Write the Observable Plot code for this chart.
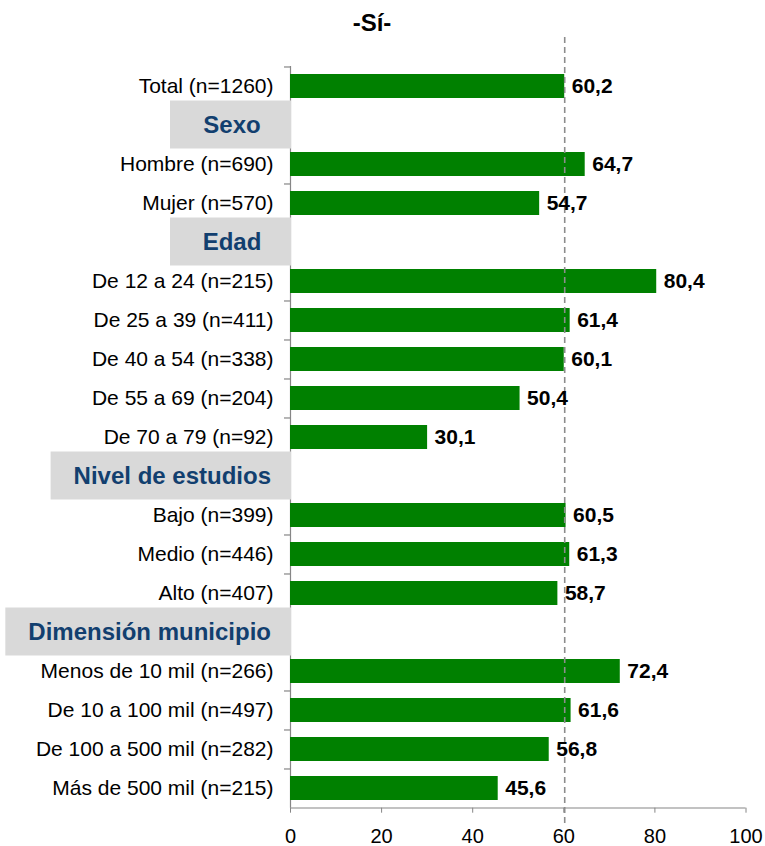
<!DOCTYPE html>
<html>
<head>
<meta charset="utf-8">
<script src="https://cdn.jsdelivr.net/npm/d3@7"></script>
<script src="https://cdn.jsdelivr.net/npm/@observablehq/plot@0.6"></script>
<style>
  html, body { margin: 0; padding: 0; background: #fff; }
  #wrap { position: relative; width: 765px; height: 846px; font-family: "Liberation Sans", Arial, sans-serif; }
  #title { position: absolute; left: 0; top: 11px; width: 744px; text-align: center; font-weight: bold; font-size: 24px; line-height: 24px; color: #000; }
  #chart { position: absolute; left: 0; top: 0; }
</style>
</head>
<body>
<div id="wrap">
  <div id="chart"></div>
  <div id="title">-Sí-</div>
</div>
<script>
const categories = [
  "Total (n=1260)", "Sexo", "Hombre (n=690)", "Mujer (n=570)", "Edad",
  "De 12 a 24 (n=215)", "De 25 a 39 (n=411)", "De 40 a 54 (n=338)", "De 55 a 69 (n=204)", "De 70 a 79 (n=92)",
  "Nivel de estudios", "Bajo (n=399)", "Medio (n=446)", "Alto (n=407)",
  "Dimensión municipio", "Menos de 10 mil (n=266)", "De 10 a 100 mil (n=497)", "De 100 a 500 mil (n=282)", "Más de 500 mil (n=215)"
];
const headers = ["Sexo", "Edad", "Nivel de estudios", "Dimensión municipio"];
const rowLabels = [
  "Total (n=1260)", "Hombre (n=690)", "Mujer (n=570)",
  "De 12 a 24 (n=215)", "De 25 a 39 (n=411)", "De 40 a 54 (n=338)", "De 55 a 69 (n=204)", "De 70 a 79 (n=92)",
  "Bajo (n=399)", "Medio (n=446)", "Alto (n=407)",
  "Menos de 10 mil (n=266)", "De 10 a 100 mil (n=497)", "De 100 a 500 mil (n=282)", "Más de 500 mil (n=215)"
];
const rowValues = [60.2, 64.7, 54.7, 80.4, 61.4, 60.1, 50.4, 30.1, 60.5, 61.3, 58.7, 72.4, 61.6, 56.8, 45.6];
const referenceValue = 60.2;
const xTicks = [0, 20, 40, 60, 80, 100];

const rows = rowLabels.map((label, i) => ({label, value: rowValues[i]}));
const fmt = v => v.toFixed(1).replace(".", ",");

const FONT = '"Liberation Sans", Arial, sans-serif';
const canvas = document.createElement("canvas");
const ctx = canvas.getContext("2d");
ctx.font = `bold 24px "Liberation Sans"`;
const textW = s => ctx.measureText(s).width;

const W = 765, H = 846, mL = 290, mR = 19.5, mT = 66, mB = 38.3;
const step = (H - mT - mB) / categories.length;
const half = step / 2;
const gray = "#868686";

const headerMarks = headers.flatMap(h => {
  const w = Math.max(119, textW(h) + 41);
  return [
    Plot.barX([h], {x1: 0, x2: 0, y: d => d, fill: "#d9d9d9", insetLeft: -w - 1, insetRight: -1, insetTop: -12.5, insetBottom: -11.5}),
    Plot.text([h], {x: 0, y: d => d, text: d => d, dx: -w / 2 + 1, textAnchor: "middle", fontWeight: "bold", fontSize: 24, fill: "#123f6f"})
  ];
});

const chart = Plot.plot({
  width: W, height: H,
  marginLeft: mL, marginRight: mR, marginTop: mT, marginBottom: mB,
  style: {fontFamily: FONT, fontSize: "20px", background: "transparent", color: "#000"},
  x: {domain: [0, 100]},
  y: {domain: categories, paddingInner: 0.385, paddingOuter: 0.1925, axis: null},
  marks: [
    Plot.axisX({ticks: xTicks, tickSize: 5, tickPadding: 16, fontSize: 20, stroke: gray, fill: "#000", label: null, tickFormat: d => String(d)}),
    Plot.ruleX([0], {stroke: gray, strokeWidth: 1.2}),
    Plot.ruleY([categories[categories.length - 1]], {x1: 0, x2: 100, dy: half, stroke: gray, strokeWidth: 1.2}),
    Plot.ruleY(categories, {y: d => d, x1: 0, x2: 0, insetLeft: -6, dy: -half, stroke: gray, strokeWidth: 1.2}),
    Plot.barX(rows, {x: "value", y: "label", fill: "#008000"}),
    Plot.ruleX([referenceValue], {stroke: "#8c8c8c", strokeWidth: 1.6, strokeDasharray: "6,4", insetTop: -29, insetBottom: -18}),
    ...headerMarks,
    Plot.text(rows, {x: 0, y: "label", text: "label", dx: -17, textAnchor: "end", fontSize: 21, fill: "#000"}),
    Plot.text(rows, {x: "value", y: "label", text: d => fmt(d.value), dx: 7, textAnchor: "start", fontSize: 21, fontWeight: "bold", fill: "#000"})
  ]
});
document.getElementById("chart").appendChild(chart);
</script>
</body>
</html>
